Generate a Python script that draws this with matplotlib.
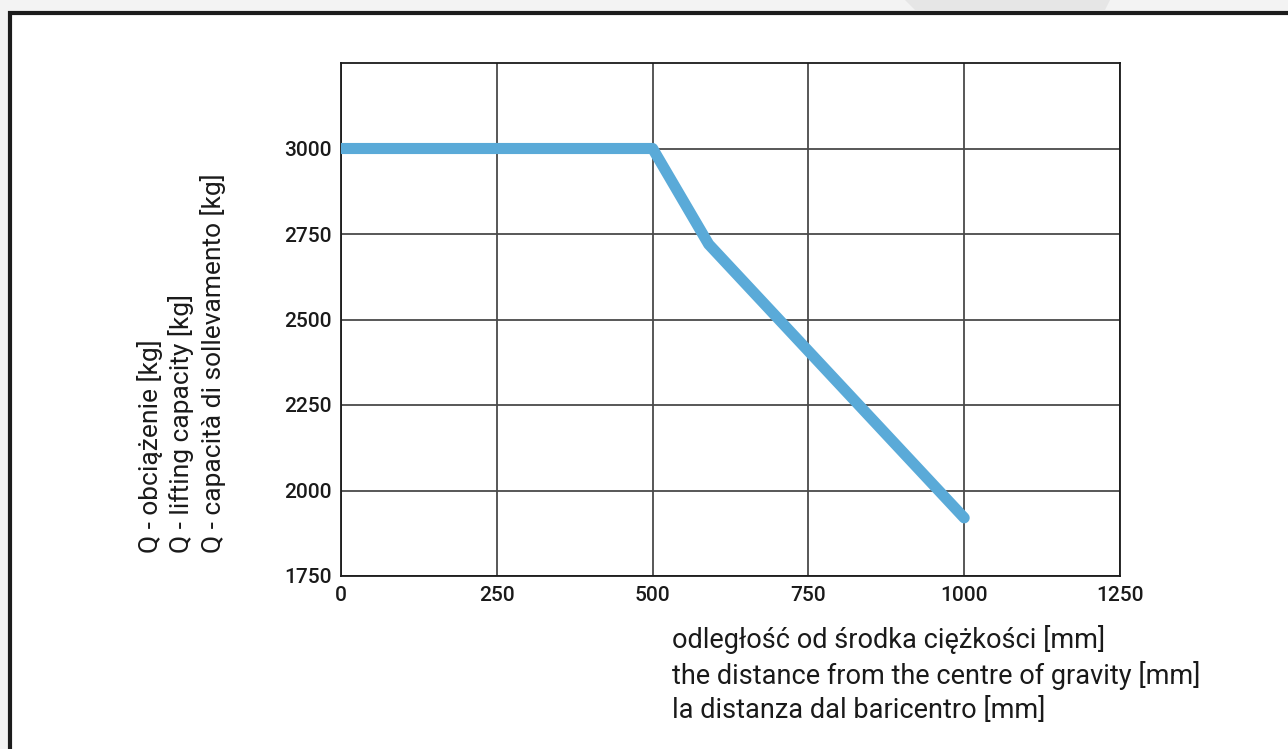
import matplotlib
matplotlib.use("Agg")
import matplotlib.pyplot as plt
from matplotlib.patches import Rectangle, Polygon

plt.rcParams['font.family'] = ['Roboto', 'DejaVu Sans']

# dane z wykresu
odleglosc = [0, 500, 590, 1000]
udzwig = [3000, 3000, 2720, 1920]
xticks = [0, 250, 500, 750, 1000, 1250]
yticks = [1750, 2000, 2250, 2500, 2750, 3000]
ylabel_lines = ["Q - obciążenie [kg]",
                "Q - lifting capacity [kg]",
                "Q - capacità di sollevamento [kg]"]
xlabel_lines = ["odległość od środka ciężkości [mm]",
                "the distance from the centre of gravity [mm]",
                "la distanza dal baricentro [mm]"]

fig = plt.figure(figsize=(12.88, 7.49), dpi=100)
fig.patch.set_facecolor("#f3f3f3")

# biale tlo z ramka
W, H = 1288, 749
fig.patches.append(Rectangle((9.5 / W, -0.2), 1.2, 1.2 - 12.5 / H, transform=fig.transFigure,
                             facecolor="white", edgecolor="#1c1c1c", linewidth=3.0,
                             zorder=0))
# slad znaku wodnego na gorze
fig.patches.append(Polygon([(905 / W, 1), (1110 / W, 1), (1105 / W, 1 - 10 / H),
                            (915 / W, 1 - 10 / H)], closed=True, transform=fig.transFigure,
                           facecolor="#e6e6e6", edgecolor="none", zorder=0))

ax = fig.add_axes([341 / W, 1 - 576 / H, (1120 - 341) / W, (576 - 63) / H])
ax.set_zorder(2)
ax.plot(odleglosc, udzwig, color="#5aaad8", linewidth=8, solid_capstyle="round",
        solid_joinstyle="round", zorder=3)

ax.set_xlim(0, 1250)
ax.set_ylim(1750, 3250)
ax.set_xticks(xticks)
ax.set_yticks(yticks)
ax.grid(True, color="#4a4a4a", linewidth=1.3)
ax.tick_params(length=0, labelsize=15, colors="#1a1a1a", pad=7)
for lab in ax.get_xticklabels() + ax.get_yticklabels():
    lab.set_fontweight("medium")
for s in ax.spines.values():
    s.set_color("#1a1a1a")
    s.set_linewidth(1.3)

for i, t in enumerate(ylabel_lines):
    fig.text((150 + 31.5 * i) / W, 1 - 553 / H, t, rotation=90, ha="center", va="bottom",
             fontsize=19, color="#1a1a1a", zorder=3)
for i, t in enumerate(xlabel_lines):
    fig.text(672 / W, 1 - (640 + 35 * i) / H, t, ha="left", va="center",
             fontsize=19.5, color="#1a1a1a", zorder=3)

fig.savefig("out.png", dpi=100)
